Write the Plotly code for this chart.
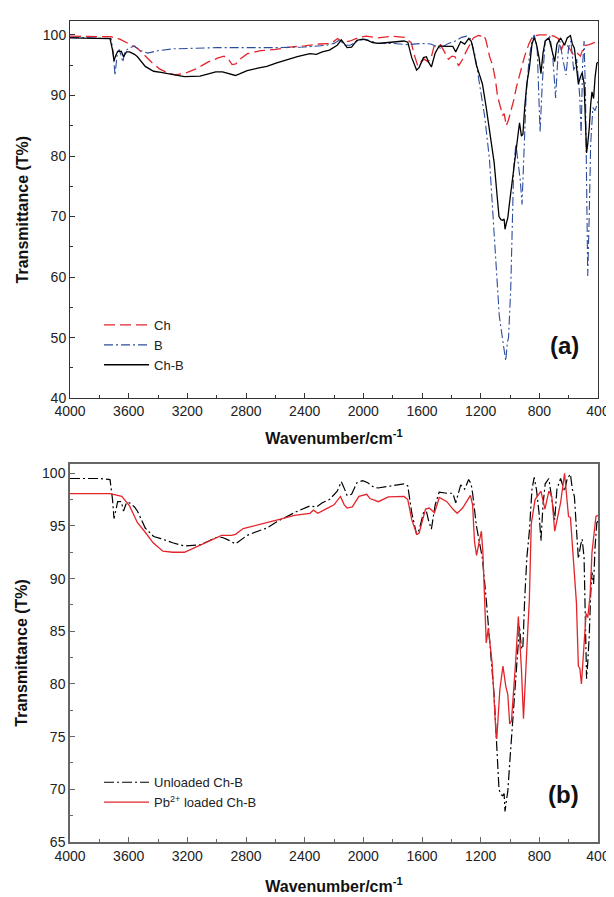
import plotly.graph_objects as go

# ---------------- data ----------------
wn_ch = [4000, 3850, 3720, 3660, 3600, 3540, 3490, 3440, 3390, 3330, 3280, 3200, 3140, 3060, 2990, 2950,
         2920, 2895, 2870, 2840, 2790, 2700, 2600, 2500, 2400, 2300, 2220, 2175, 2140, 2090, 2030, 1980,
         1900, 1807, 1720, 1673, 1650, 1629, 1605, 1585, 1560, 1540, 1518, 1474, 1440, 1420, 1395, 1375,
         1351, 1325, 1300, 1280, 1250, 1215, 1195, 1180, 1165, 1140, 1118, 1100, 1085, 1062, 1051, 1040,
         1025, 1010, 990, 975, 955, 930, 900, 870, 845, 800, 750, 700, 670, 650, 630, 600, 570, 550, 520,
         495, 460, 430, 400]
t_ch = [99.8, 99.8, 99.7, 99.3, 98.6, 97.8, 96.6, 95.4, 94.4, 93.7, 93.4, 93.8, 94.4, 95.5, 96.2, 96.5,
        96.0, 95.1, 95.2, 96.0, 96.9, 97.4, 97.6, 98.0, 98.2, 98.5, 98.6, 99.4, 98.8, 99.0, 99.6, 99.8,
        99.5, 99.8, 99.6, 98.7, 96.5, 94.9, 95.6, 96.0, 95.6, 96.0, 98.1, 98.4, 96.9, 96.0, 96.5, 96.4,
        94.9, 95.9, 97.2, 98.1, 99.5, 99.9, 99.8, 100.0, 99.2, 96.5, 94.9, 92.7, 89.9, 87.8, 86.7, 87.0,
        85.0, 86.0, 87.8, 89.2, 91.5, 94.0, 96.5, 98.6, 99.8, 100.0, 100.0, 99.8, 99.4, 97.5, 98.8, 98.0,
        96.8, 97.2, 96.5, 98.2, 98.4, 98.7, 99.0]

wn_b = [4000, 3800, 3720, 3705, 3693, 3680, 3665, 3650, 3640, 3625, 3600, 3560, 3530, 3470, 3400, 3300,
        3000, 2600, 2400, 2250, 2200, 2160, 2130, 2090, 2040, 1990, 1950, 1900, 1807, 1700, 1600, 1540,
        1474, 1420, 1380, 1330, 1296, 1270, 1240, 1207, 1173, 1140, 1118, 1096, 1073, 1051, 1040, 1029,
        1018, 1010, 995, 975, 960, 945, 930, 918, 905, 890, 870, 850, 835, 815, 795, 780, 760, 729, 710,
        689, 672, 660, 640, 618, 600, 585, 565, 545, 525, 515, 505, 495, 485, 470, 460, 450, 435, 420, 400]
t_b = [99.6, 99.5, 99.4, 97.0, 93.3, 96.5, 97.6, 96.5, 95.5, 97.3, 97.8, 98.2, 97.5, 97.0, 97.4, 97.7,
       97.9, 97.9, 98.0, 98.3, 98.6, 99.2, 98.3, 98.3, 99.0, 99.3, 99.0, 98.6, 98.6, 98.4, 98.6, 98.5,
       97.8, 98.6, 98.9, 99.6, 99.8, 99.4, 96.8, 92.0, 86.6, 79.5, 71.6, 63.4, 53.6, 49.8, 48.0, 46.2,
       49.2, 50.0, 58.0, 78.0, 82.0, 79.0, 76.0, 72.0, 80.0, 90.0, 96.0, 99.0, 100.0, 98.0, 84.0, 92.0,
       99.0, 99.8, 97.0, 89.6, 97.0, 99.0, 96.0, 93.4, 98.0, 99.0, 94.0, 96.0, 90.0, 83.5, 95.0, 99.0,
       90.0, 60.2, 70.0, 82.0, 88.0, 87.5, 89.0]

wn_chb = [4000, 3800, 3727, 3710, 3700, 3690, 3675, 3650, 3635, 3615, 3594, 3560, 3540, 3487, 3430, 3380,
          3300, 3220, 3113, 3050, 3006, 2960, 2926, 2872, 2840, 2792, 2720, 2658, 2590, 2525, 2450, 2364,
          2320, 2280, 2231, 2178, 2150, 2125, 2111, 2080, 2044, 2004, 1970, 1937, 1900, 1830, 1760, 1723,
          1697, 1670, 1637, 1620, 1590, 1570, 1555, 1536, 1510, 1483, 1430, 1390, 1370, 1336, 1309, 1282,
          1265, 1255, 1229, 1188, 1162, 1135, 1108, 1087, 1075, 1062, 1050, 1040, 1034, 1024, 1015, 1002,
          989, 970, 949, 935, 922, 912, 900, 885, 868, 850, 835, 820, 802, 789, 775, 760, 735, 715, 695,
          680, 655, 628, 610, 588, 575, 561, 545, 534, 518, 508, 495, 485, 478, 470, 460, 450, 441, 430,
          420, 408, 400]
t_chb = [99.5, 99.5, 99.4, 97.5, 95.7, 96.5, 97.3, 97.3, 96.4, 97.2, 97.2, 96.8, 96.4, 94.8, 94.0, 93.8,
         93.4, 93.1, 93.2, 93.6, 93.9, 93.9, 93.7, 93.3, 93.6, 94.1, 94.5, 94.8, 95.4, 95.9, 96.4, 96.9,
         96.8, 97.2, 97.5, 98.3, 99.2, 98.4, 97.9, 98.0, 99.1, 99.3, 99.1, 98.75, 98.6, 98.75, 98.9, 99.0,
         98.8, 96.25, 94.2, 94.6, 96.25, 96.4, 95.5, 94.7, 97.0, 98.2, 98.1, 98.1, 97.2, 98.9, 98.5, 99.4,
         99.0, 98.1, 95.0, 91.9, 88.0, 83.6, 78.9, 73.2, 70.0, 69.5, 69.4, 69.6, 67.9, 69.0, 69.8, 72.5,
         75.0, 79.5, 83.0, 85.5, 83.3, 83.6, 88.0, 92.0, 94.5, 98.5, 99.6, 98.5, 96.25, 93.6, 97.0, 99.0,
         99.5, 97.5, 95.6, 98.5, 99.5, 98.3, 99.5, 99.9, 98.5, 97.8, 94.0, 91.9, 93.2, 93.75, 92.0, 85.0,
         80.5, 82.0, 84.5, 88.5, 90.6, 89.5, 93.0, 95.3, 95.5]

wn_pb = [4000, 3727, 3690, 3647, 3594, 3540, 3487, 3433, 3367, 3300, 3220, 3140, 3033, 2966, 2900, 2872,
         2819, 2685, 2578, 2471, 2390, 2364, 2340, 2310, 2257, 2200, 2156, 2130, 2111, 2075, 2030, 1977,
         1955, 1897, 1830, 1723, 1697, 1670, 1635, 1620, 1576, 1550, 1515, 1482, 1430, 1390, 1360, 1323,
         1270, 1255, 1242, 1228, 1210, 1195, 1185, 1175, 1162, 1148, 1122, 1095, 1090, 1069, 1048, 1029,
         1015, 1002, 990, 962, 943, 922, 908, 881, 868, 855, 829, 789, 762, 735, 715, 695, 655, 628, 601,
         588, 561, 547, 534, 524, 513, 494, 481, 470, 454, 441, 414, 400]
t_pb = [98.06, 98.06, 97.95, 97.8, 96.9, 95.3, 94.4, 93.4, 92.6, 92.5, 92.5, 93.0, 93.7, 94.1, 94.1, 94.2,
        94.75, 95.2, 95.6, 96.0, 96.2, 96.2, 96.5, 96.2, 96.6, 97.0, 97.8, 97.0, 96.7, 96.8, 97.8, 98.0,
        97.6, 97.3, 97.75, 97.8, 97.5, 95.6, 94.2, 94.3, 96.6, 96.7, 96.25, 97.7, 97.3, 96.6, 96.2, 96.7,
        97.9, 97.0, 93.5, 92.2, 93.5, 94.5, 92.5, 88.4, 83.9, 85.3, 82.0, 75.1, 74.8, 79.5, 81.7, 79.8,
        79.0, 76.2, 76.5, 82.0, 86.4, 81.4, 76.7, 84.5, 88.0, 95.2, 97.5, 98.3, 96.6, 98.3, 97.8, 94.5,
        97.2, 100.0, 95.9, 95.8, 90.3, 87.7, 81.7, 81.5, 80.0, 83.9, 86.7, 86.3, 88.4, 92.5, 95.9, 96.0]

x_ticks = [4000, 3600, 3200, 2800, 2400, 2000, 1600, 1200, 800, 400]

# ---------------- style ----------------
FONT = "Liberation Sans, Arial, sans-serif"
RED = "#e3242b"
BLUE = "#2c4c9c"

fig = go.Figure()

fig.add_trace(go.Scatter(x=wn_ch, y=t_ch, name="Ch", mode="lines",
                         line=dict(color=RED, width=1.3, dash="11px,5px"),
                         xaxis="x", yaxis="y", legend="legend"))
fig.add_trace(go.Scatter(x=wn_b, y=t_b, name="B", mode="lines",
                         line=dict(color=BLUE, width=1.1, dash="9px,3px,2px,3px"),
                         xaxis="x", yaxis="y", legend="legend"))
fig.add_trace(go.Scatter(x=wn_chb, y=t_chb, name="Ch-B", mode="lines",
                         line=dict(color="black", width=1.3),
                         xaxis="x", yaxis="y", legend="legend"))

fig.add_trace(go.Scatter(x=wn_chb, y=t_chb, name="Unloaded Ch-B", mode="lines",
                         line=dict(color="black", width=1.2, dash="10px,3px,2px,3px"),
                         xaxis="x2", yaxis="y2", legend="legend2"))
fig.add_trace(go.Scatter(x=wn_pb, y=t_pb, name="Pb<sup>2+</sup> loaded Ch-B", mode="lines",
                         line=dict(color=RED, width=1.3),
                         xaxis="x2", yaxis="y2", legend="legend2"))

tickfont = dict(family=FONT, size=14, color="#222")
titlefont = dict(family=FONT, size=16, color="#111", weight="bold")

def xax(domain_anchor, color, lw, standoff):
    return dict(range=[4000, 400], tickvals=x_ticks, ticks="inside", ticklen=5, tickwidth=1,
                tickcolor=color, showline=True, linecolor=color, linewidth=lw, mirror=True,
                showgrid=False, zeroline=False, tickfont=tickfont, anchor=domain_anchor,
                minor=dict(dtick=200, ticks="inside", ticklen=3, tickcolor=color, showgrid=False),
                title=dict(text="<b>Wavenumber/cm<sup>-1</sup></b>", font=titlefont, standoff=standoff))

def yax(rng, dtick, domain, anchor, color, lw):
    return dict(range=rng, dtick=dtick, ticks="inside", ticklen=5, tickwidth=1, tickcolor=color,
                showline=True, linecolor=color, linewidth=lw, mirror=True, showgrid=False,
                zeroline=False, tickfont=tickfont, domain=domain, anchor=anchor,
                minor=dict(dtick=dtick / 2, ticks="inside", ticklen=3, tickcolor=color, showgrid=False),
                title=dict(text="<b>Transmittance (T%)</b>", font=titlefont, standoff=10))

fig.update_layout(
    width=614, height=897,
    margin=dict(l=62, r=12, t=12, b=58),
    paper_bgcolor="white", plot_bgcolor="white",
    font=dict(family=FONT, size=14, color="#222"),
    xaxis=xax("y", "#333", 1, 14),
    yaxis=yax([40, 102.3], 10, [0.5405, 1.0], "x", "#333", 1),
    xaxis2=xax("y2", "#666", 1.5, 18),
    yaxis2=yax([65, 100.9], 5, [0.0, 0.4607], "x2", "#666", 1.5),
    legend=dict(x=0.055, y=0.648, xanchor="left", yanchor="top", bgcolor="rgba(0,0,0,0)",
                font=dict(family=FONT, size=13, color="#222"), itemwidth=45, tracegroupgap=0),
    legend2=dict(x=0.055, y=0.091, xanchor="left", yanchor="top", bgcolor="rgba(0,0,0,0)",
                 font=dict(family=FONT, size=13, color="#222"), itemwidth=45, tracegroupgap=0),
    showlegend=True,
    annotations=[
        dict(text="<b>(a)</b>", xref="paper", yref="paper", x=0.967, y=0.605, showarrow=False,
             font=dict(family=FONT, size=24, color="#111")),
        dict(text="<b>(b)</b>", xref="paper", yref="paper", x=0.967, y=0.039, showarrow=False,
             font=dict(family=FONT, size=24, color="#111")),
    ],
)

fig.write_html("out.html")
